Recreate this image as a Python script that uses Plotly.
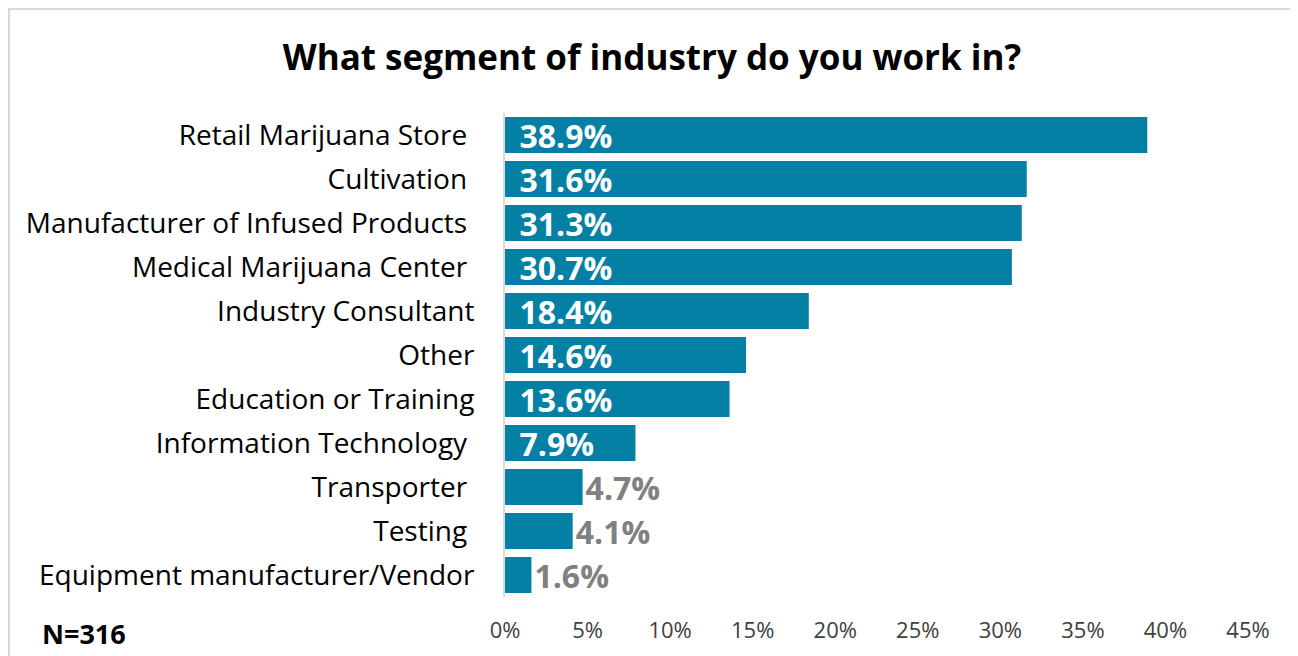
import plotly.graph_objects as go

categories = ["Retail Marijuana Store ", "Cultivation ", "Manufacturer of Infused Products ",
              "Medical Marijuana Center ", "Industry Consultant", "Other",
              "Education or Training", "Information Technology ", "Transporter ",
              "Testing ", "Equipment manufacturer/Vendor"]
values = [0.389, 0.316, 0.313, 0.307, 0.184, 0.146, 0.136, 0.079, 0.047, 0.041, 0.016]
tick_vals = [0, 0.05, 0.10, 0.15, 0.20, 0.25, 0.30, 0.35, 0.40, 0.45]
tick_text = ["0%", "5%", "10%", "15%", "20%", "25%", "30%", "35%", "40%", "45%"]
title_text = "What segment of industry do you work in?"
note_text = "N=316"

BAR = "#0480A5"
FONT = "Open Sans"

inside = [v >= 0.07 for v in values]
positions = ["inside" if i else "outside" for i in inside]
colors = ["#FFFFFF" if i else "#808080" for i in inside]
templates = ["\u00a0\u200a%{x:.1%}" if i else "%{x:.1%}" for i in inside]

fig = go.Figure(go.Bar(
    x=values, y=categories, orientation="h",
    marker=dict(color=BAR, line=dict(width=0)),
    width=0.82,
    texttemplate=templates, textposition=positions,
    insidetextanchor="start", textangle=0, constraintext="none",
    textfont=dict(family=FONT, size=32, color=colors, weight="bold"),
    cliponaxis=False, hoverinfo="skip",
))

# figure is drawn with the page's 8px body offset
OFF = 8
W, H = 1290, 648
L, R, T, B = 505 - OFF, W - (1248 - OFF), 113 - OFF, H - (597 - OFF)
pw, ph = W - L - R, H - T - B

def px_x(p):
    return (p - OFF - L) / pw

def px_y(p):
    return (H - B - (p - OFF)) / ph

fig.update_layout(
    width=W, height=H,
    margin=dict(l=L, r=R, t=T, b=B, pad=0),
    paper_bgcolor="white", plot_bgcolor="white",
    showlegend=False,
    font=dict(family=FONT, color="#262626"),
    title=dict(text="<b>" + title_text + "</b>", x=(652 - OFF) / W, xref="container", xanchor="center",
               y=1 - (58 - OFF) / H, yref="container", yanchor="middle",
               font=dict(family=FONT, size=35, color="#000000")),
    xaxis=dict(range=[0, 0.45], tickvals=tick_vals, ticktext=tick_text,
               showgrid=False, zeroline=False, showline=False, ticks="",
               ticklabelstandoff=18,
               tickfont=dict(family=FONT, size=22, color="#404040")),
    yaxis=dict(autorange="reversed", showgrid=False, zeroline=False,
               showline=True, linecolor="#D9D9D9", linewidth=2, ticks="",
               ticklabelstandoff=23,
               tickfont=dict(family=FONT, size=28, color="#000000")),
    annotations=[dict(text="<b>" + note_text + "</b>", xref="paper", yref="paper",
                      x=px_x(40), y=px_y(633), xanchor="left", yanchor="middle",
                      showarrow=False, font=dict(family=FONT, size=27, color="#000000"))],
    shapes=[dict(type="rect", xref="paper", yref="paper",
                 x0=px_x(9), x1=px_x(1294), y0=px_y(670), y1=px_y(9),
                 line=dict(color="#D9D9D9", width=2), fillcolor="rgba(0,0,0,0)", layer="below")],
)

fig.write_html("out.html")
